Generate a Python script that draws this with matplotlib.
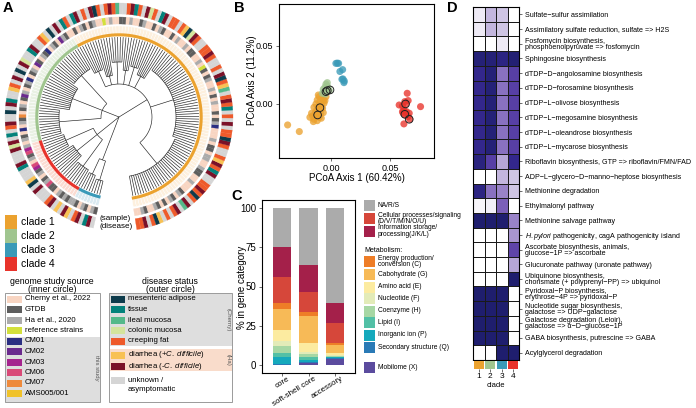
import numpy as np
import matplotlib.pyplot as plt
import matplotlib.transforms as mtransforms
from matplotlib.patches import Wedge, Rectangle
from matplotlib.colors import LinearSegmentedColormap

plt.rcParams['font.family'] = ['Liberation Sans', 'DejaVu Sans']
plt.rcParams['mathtext.fontset'] = 'custom'
plt.rcParams['mathtext.rm'] = 'Liberation Sans'
plt.rcParams['mathtext.it'] = 'Liberation Sans:italic'

W, H = 696, 408

# ---------------- data: panel A (tree tips, source+disease code per tip) ----------------
clade_names = ['clade 1', 'clade 2', 'clade 3', 'clade 4']
clade_colors = ['#EBA22F', '#A0C58F', '#3A9AB8', '#E8332B']
clade_pale = ['#FDF0DE', '#E9F1E3', '#DAEAF1', '#FBDCD2']

tips_clade1 = ("Cf Cf Hm Gu Cf Ca Hp Gu Cf Gu "
               "Cf Hm Gu Ci Hm Gu Cf Ca Cf Hm "
               "Cf Cf Gu Gu Hm Ct Cf Hm Hp Cf "
               "Gu Gu Cf Hm Ca Cf Cf 1u Hm Gu "
               "Cf Gu Ct Cf Hm Cf Gu Ci Hp Cf "
               "Ca Hm Gu Cf Gu Ru Cf Hm Cf Cf "
               "Gu Gu Cf Hm Cc Ca Hp Cf Gu Cf "
               "Cf Gu Hm Ct Gu Cf Cc Hm Gu Cf "
               "Ct Hm Cf Gu Gu Ci Cf Hm Cf Ru "
               "Cf Ca Hm Gu Cf Gu Hm Ct Gu Cf").split()
tips_clade2 = ("Ct Gu Hm 2u Ca Gu Hp Cf 1u Gu "
               "Hm Ct Gu 2u Cc Hm Gu Ca 1u Hm "
               "Gu Cf Hp 2u Gu Ct Hm Gu Ca 7u "
               "Gu Hm Cf 1u Ct Gu Hm Cc").split()
tips_clade4 = ("Hm 3u 6u Gu Hm Ct 6u 3u Gu Hp "
               "Ca Gu Hm 6u Gu Gu Cf Hm Gu Hp "
               "Gu Hm").split()
tips_clade3 = "Hp Gu Cf Hm Gu Ct Hm Gu".split()

# subgroups of the tree: tips per subgroup and node radius
groups_clade1 = [(30, 60), (38, 57), (6, 46), (5, 52), (4, 47), (6, 55), (5, 42), (6, 50)]
groups_clade2 = [(12, 56), (14, 50), (12, 60)]
groups_clade4 = [(7, 58), (8, 54), (7, 61)]
groups_clade3 = [(4, 63), (4, 66)]

source_labels = ['Cherny et al., 2022', 'GTDB', 'Ha et al., 2020', 'reference strains',
                 'CM01', 'CM02', 'CM03', 'CM06', 'CM07', 'AMS005/001']
source_codes = ['C', 'G', 'H', 'R', '1', '2', '3', '6', '7', 'A']
source_colors = ['#F8D5C2', '#5E5E5E', '#ABABAB', '#D3E03C',
                 '#2A2E82', '#6A2A8E', '#A5248E', '#D94A78', '#EE8A3C', '#F0C22A']

disease_labels = ['mesenteric adipose', 'tissue', 'ileal mucosa', 'colonic mucosa', 'creeping fat',
                  r'diarrhea (+$\mathit{C.\ difficile}$)', r'diarrhea (-$\mathit{C.\ difficile}$)',
                  'unknown /\nasymptomatic']
disease_codes = ['a', 't', 'i', 'c', 'f', 'p', 'm', 'u']
disease_colors = ['#0D3B4B', '#03827B', '#54B98A', '#D4E49C', '#EE5A2B', '#F8C154', '#7B1128', '#D5D5D5']

# ---------------- data: panel B (PCoA) ----------------
pc_clade1_x = [-0.0099, -0.0079, -0.0116, -0.0093, -0.0065, -0.0127, -0.0104, -0.0082, -0.0059, -0.0144,
               -0.0121, -0.0093, -0.0071, -0.0133, -0.0110, -0.0087, -0.0155, -0.0127, -0.0099, -0.0144,
               -0.0116, -0.0082, -0.0149, -0.0051, -0.0042, -0.0071, -0.0107, -0.0164, -0.0065, -0.0178,
               -0.0367, -0.0268]
pc_clade1_y = [0.0063, 0.0057, 0.0034, 0.0020, 0.0034, 0.0000, -0.0017, -0.0009, 0.0006, -0.0029,
               -0.0052, -0.0046, -0.0037, -0.0075, -0.0086, -0.0080, -0.0103, -0.0109, -0.0115, -0.0132,
               -0.0144, -0.0123, -0.0152, 0.0029, 0.0063, 0.0077, 0.0077, -0.0080, -0.0075, -0.0115,
               -0.0181, -0.0238]
pc_clade2_x = [-0.0042, -0.0031, -0.0051, -0.0065, -0.0023, -0.0059, -0.0037, -0.0073, -0.0048, -0.0014, -0.0031]
pc_clade2_y = [0.0172, 0.0155, 0.0144, 0.0126, 0.0135, 0.0106, 0.0115, 0.0092, 0.0086, 0.0115, 0.0184]
pc_clade3_x = [0.0042, 0.0065, 0.0054, 0.0076, 0.0099, 0.0102, 0.0113, 0.0110, 0.0093]
pc_clade3_y = [0.0350, 0.0350, 0.0352, 0.0280, 0.0296, 0.0216, 0.0198, 0.0184, 0.0213]
pc_clade4_x = [0.0646, 0.0578, 0.0606, 0.0626, 0.0654, 0.0635, 0.0618, 0.0640, 0.0612, 0.0629,
               0.0654, 0.0668, 0.0618, 0.0759, 0.0606, 0.0663]
pc_clade4_y = [0.0092, -0.0009, -0.0017, 0.0020, 0.0029, 0.0000, -0.0052, -0.0066, -0.0080, -0.0095,
               -0.0109, -0.0132, -0.0172, -0.0023, -0.0066, -0.0080]
isolate_x = [-0.0042, -0.0008, -0.0031, -0.0093, -0.0113, 0.0632, 0.0626, 0.0663]
isolate_y = [0.0106, 0.0121, 0.0115, -0.0032, -0.0095, 0.0000, -0.0089, -0.0132]

# ---------------- data: panel C (gene categories, %) ----------------
genome_parts = ['core', 'soft-shell core', 'accessory']
cat_labels = ['Mobilome (X)', 'Secondary structure (Q)', 'Inorganic ion (P)', 'Lipid (I)', 'Coenzyme (H)',
              'Nucleotide (F)', 'Amino acid (E)', 'Cabohydrate (G)', 'Energy production/\nconversion (C)',
              'Cellular processes/signaling\n(D/V/T/M/N/O/U)', 'Information storage/\nprocessing(J/K/L)', 'NA/R/S']
cat_colors = ['#5B4B9E', '#2A7AB6', '#15A9BC', '#52C0A6', '#A7D7A4', '#E3EBB8',
              '#FCEBA0', '#F7BA57', '#EE7D27', '#D6473A', '#A4204A', '#ABABAB']
pct_core = [0.3, 0.5, 4.5, 2.5, 4.4, 3.2, 7.2, 12.8, 4.0, 16.8, 18.8, 25.0]
pct_soft = [1.5, 0.6, 1.3, 1.5, 2.1, 1.4, 5.5, 17.3, 2.5, 12.9, 16.9, 36.5]
pct_acc = [4.2, 0.3, 0.5, 0.2, 0.3, 0.8, 1.3, 5.3, 1.0, 12.7, 12.6, 60.8]

# ---------------- data: panel D (pathway heatmap) ----------------
pathways = ['Sulfate\u2212sulfur assimilation',
            'Assimilatory sulfate reduction, sulfate => H2S',
            'Fosfomycin biosynthesis,\nphosphoenolpyruvate => fosfomycin',
            'Sphingosine biosynthesis',
            'dTDP\u2212D\u2212angolosamine biosynthesis',
            'dTDP\u2212D\u2212forosamine biosynthesis',
            'dTDP\u2212L\u2212olivose biosynthesis',
            'dTDP\u2212L\u2212megosamine biosynthesis',
            'dTDP\u2212L\u2212oleandrose biosynthesis',
            'dTDP\u2212L\u2212mycarose biosynthesis',
            'Riboflavin biosynthesis, GTP => riboflavin/FMN/FAD',
            'ADP\u2212L\u2212glycero\u2212D\u2212manno\u2212heptose biosynthesis',
            'Methionine degradation',
            'Ethylmalonyl pathway',
            'Methionine salvage pathway',
            r'$\mathit{H.pylori}$ pathogenicity, cagA pathogenicity island',
            'Ascorbate biosynthesis, animals,\nglucose\u22121P => ascorbate',
            'Glucuronate pathway (uronate pathway)',
            'Ubiquinone biosynthesis,\nchorismate (+ polyprenyl\u2212PP) => ubiquinol',
            'Pyridoxal\u2212P biosynthesis,\nerythrose\u22124P => pyridoxal\u2212P',
            'Nucleotide sugar biosynthesis,\ngalactose => UDP\u2212galactose',
            'Galactose degradation (Leloir),\ngalactose => \u03b1\u2212D\u2212glucose\u22121P',
            'GABA biosynthesis, putrescine => GABA',
            'Acylglycerol degradation']
completeness = [[0.10, 0.30, 0.25, 0.00],
                [0.10, 0.30, 0.25, 0.00],
                [0.00, 0.00, 0.10, 0.00],
                [0.95, 0.95, 0.90, 0.97],
                [0.85, 0.95, 0.50, 0.68],
                [0.85, 0.95, 0.50, 0.68],
                [0.85, 0.95, 0.50, 0.68],
                [0.85, 0.95, 0.50, 0.68],
                [0.85, 0.95, 0.50, 0.68],
                [0.85, 0.95, 0.50, 0.68],
                [0.92, 0.68, 0.35, 0.85],
                [0.00, 0.00, 0.30, 0.25],
                [0.90, 0.50, 0.45, 0.25],
                [0.05, 0.08, 0.55, 0.00],
                [1.00, 1.00, 1.00, 0.45],
                [0.00, 0.00, 0.00, 0.40],
                [0.00, 0.00, 0.00, 0.65],
                [0.00, 0.00, 0.00, 0.35],
                [0.00, 0.00, 0.00, 1.00],
                [1.00, 1.00, 1.00, 0.00],
                [1.00, 1.00, 1.00, 0.00],
                [1.00, 1.00, 1.00, 0.00],
                [1.00, 1.00, 1.00, 0.00],
                [0.00, 0.00, 1.00, 1.00]]

fig = plt.figure(figsize=(W / 100, H / 100), dpi=100)

# overlay axes in pixel coordinates for legends and free text
ov = fig.add_axes([0, 0, 1, 1])
ov.set_xlim(0, W)
ov.set_ylim(H, 0)
ov.axis('off')

for lab, x, y in [('A', 3, 8), ('B', 234, 8), ('C', 231, 196), ('D', 447, 8)]:
    ov.text(x, y, lab, fontsize=10.5, fontweight='bold', va='center', ha='left')

# ---------------- panel A: circular tree ----------------
cx, cy, R = 119, 117, 118
tr = fig.add_axes([(cx - R) / W, (H - cy - R) / H, 2 * R / W, 2 * R / H])
tr.set_xlim(-R, R)
tr.set_ylim(-R, R)
tr.axis('off')

src_col = dict(zip(source_codes, source_colors))
dis_col = dict(zip(disease_codes, disease_colors))
line_kw = dict(color='#1e1e1e', lw=0.45, solid_capstyle='butt')


def radial(r1, r2, a):
    t = np.deg2rad(a)
    tr.plot([r1 * np.cos(t), r2 * np.cos(t)], [r1 * np.sin(t), r2 * np.sin(t)], **line_kw)


def arc(r, a1, a2, **kw):
    t = np.deg2rad(np.linspace(a1, a2, max(2, int(abs(a2 - a1)) + 2)))
    tr.plot(r * np.cos(t), r * np.sin(t), **kw)


circle_order = [(0, tips_clade1, groups_clade1, 33),
                (1, tips_clade2, groups_clade2, 18),
                (3, tips_clade4, groups_clade4, 28),
                (2, tips_clade3, groups_clade3, 46)]
n_total = sum(len(c[1]) for c in circle_order)
a0, span = -81.0, 338.0
step = span / n_total
r_leaf = 80
i = 0
for ci, tips, groups, r_clade in circle_order:
    sizes = [g[0] for g in groups]
    sizes[-1] += len(tips) - sum(sizes)
    start = i
    mids = []
    for n, (_, r_node) in zip(sizes, groups):
        angs = a0 + (np.arange(i, i + n) + 0.5) * step
        for a in angs:
            radial(r_node, r_leaf, a)
        arc(r_node, angs[0], angs[-1], **line_kw)
        mids.append(angs.mean())
        radial(r_clade, r_node, angs.mean())
        i += n
    arc(r_clade, min(mids), max(mids), **line_kw)
    radial(0, r_clade, (min(mids) + max(mids)) / 2)
    # rings
    for k, tok in enumerate(tips):
        th1 = a0 + (start + k) * step
        th2 = th1 + step
        tr.add_patch(Wedge((0, 0), 91, th1, th2, width=9, facecolor=clade_pale[ci],
                           edgecolor='white', lw=0.3))
        c1 = src_col[tok[0]]
        tr.add_patch(Wedge((0, 0), 100, th1, th2, width=7, facecolor=c1, edgecolor=c1, lw=0.2))
        c2 = dis_col[tok[1]]
        tr.add_patch(Wedge((0, 0), 114, th1, th2, width=11, facecolor=c2, edgecolor=c2, lw=0.2))
    arc(82.2, a0 + start * step, a0 + i * step, color=clade_colors[ci], lw=2.2, solid_capstyle='butt')

ov.text(115, 218, '(sample)', fontsize=5.8, ha='center', va='center')
ov.text(116, 227, '(disease)', fontsize=5.8, ha='center', va='center')

# clade legend
for k in range(4):
    y = 215 + k * 14
    ov.add_patch(Rectangle((5, y), 12, 14, facecolor=clade_colors[k], edgecolor='none'))
    ov.text(21, y + 7, clade_names[k], fontsize=7.5, va='center')

# source legend
ov.text(52, 281, 'genome study source', fontsize=6.3, ha='center', va='center')
ov.text(52, 289, '(inner circle)', fontsize=6.3, ha='center', va='center')
ov.add_patch(Rectangle((5, 293), 95, 109, facecolor='white', edgecolor='#8a8a8a', lw=0.6))
ov.add_patch(Rectangle((5.5, 336.5), 94, 65, facecolor='#DEDEDE', edgecolor='none'))
for k, (lab, col) in enumerate(zip(source_labels, source_colors)):
    y = 299 + k * 10.5
    ov.add_patch(Rectangle((7, y - 3.5), 15, 7, facecolor=col, edgecolor='none'))
    ov.text(25, y, lab, fontsize=5.6, va='center')
ov.text(96, 368, 'this study', fontsize=4.3, rotation=-90, ha='center', va='center', color='#555555')

# disease legend
ov.text(170, 281, 'disease status', fontsize=6.3, ha='center', va='center')
ov.text(170, 289, '(outer circle)', fontsize=6.3, ha='center', va='center')
ov.add_patch(Rectangle((109, 293), 123, 109, facecolor='white', edgecolor='#8a8a8a', lw=0.6))
ov.add_patch(Rectangle((109.5, 293.5), 122, 52, facecolor='#DEDEDE', edgecolor='none'))
ov.add_patch(Rectangle((109.5, 349), 122, 22, facecolor='#F9DCCB', edgecolor='none'))
dis_y = [299, 309.5, 320, 330.5, 341, 355, 366, 380]
for lab, col, y in zip(disease_labels, disease_colors, dis_y):
    ov.add_patch(Rectangle((111, y - 3.5), 14, 7, facecolor=col, edgecolor='none'))
    ov.text(128, y + (5 if '\n' in lab else 0), lab, fontsize=5.6, va='center', linespacing=1.25)
ov.text(228, 320, '(Cherny)', fontsize=4.3, rotation=-90, ha='center', va='center', color='#555555')
ov.text(228, 360, '(Ha)', fontsize=4.3, rotation=-90, ha='center', va='center', color='#555555')

# ---------------- panel B: PCoA ----------------
b = fig.add_axes([279 / W, (H - 158) / H, 155 / W, 154 / H])
for xs, ys, col in [(pc_clade1_x, pc_clade1_y, clade_colors[0]),
                    (pc_clade2_x, pc_clade2_y, clade_colors[1]),
                    (pc_clade3_x, pc_clade3_y, clade_colors[2]),
                    (pc_clade4_x, pc_clade4_y, clade_colors[3])]:
    b.scatter(xs, ys, s=26, color=col, alpha=0.78, edgecolors='none')
b.scatter(isolate_x, isolate_y, s=30, facecolors='none', edgecolors='#222222', linewidths=0.7)
b.set_xlim(-0.044, 0.0873)
b.set_ylim(-0.0466, 0.0862)
b.set_xticks([0.0, 0.05])
b.set_xticklabels(['0.00', '0.05'])
b.set_yticks([0.0, 0.05])
b.set_yticklabels(['0.00', '0.05'])
b.tick_params(labelsize=6.5, length=2.5, width=0.5, pad=1.5, color='#333333')
for s in b.spines.values():
    s.set_linewidth(0.8)
ov.text(357, 178, 'PCoA Axis 1 (60.42%)', fontsize=7, ha='center', va='center')
ov.text(252, 80, 'PCoA Axis 2 (11.2%)', fontsize=7, ha='center', va='center', rotation=90)
ov.scatter([376], [11], s=30, facecolors='none', edgecolors='#222222', linewidths=0.7)
ov.text(384, 14.5, 'isolate from\nthis study', fontsize=6.3, va='center', linespacing=1.0)

# ---------------- panel C: stacked bars ----------------
c = fig.add_axes([262 / W, (H - 373) / H, 93 / W, 173 / H])
xpos = np.arange(1, 4)
bottom = np.zeros(3)
for k in range(len(cat_labels)):
    vals = np.array([pct_core[k], pct_soft[k], pct_acc[k]])
    c.bar(xpos, vals, bottom=bottom, width=0.7, color=cat_colors[k], edgecolor='none')
    bottom += vals
c.set_xlim(0.25, 3.75)
c.set_ylim(-5, 105)
c.set_yticks([0, 25, 50, 75, 100])
c.set_xticks(xpos)
c.set_xticklabels([])
shift = mtransforms.ScaledTranslation(5 / 100, -2 / 100, fig.dpi_scale_trans)
for xp, part in zip(xpos, genome_parts):
    c.text(xp, 0, part, fontsize=5.8, rotation=32, ha='right', va='top', rotation_mode='anchor',
           transform=c.get_xaxis_transform() + shift)
c.tick_params(axis='y', labelsize=7, length=2.5, width=0.5, pad=1.5, color='#333333')
c.tick_params(axis='x', length=2.5, width=0.5, color='#333333')
for s in c.spines.values():
    s.set_linewidth(0.8)
ov.text(242, 287, '% in gene category', fontsize=7, rotation=90, ha='center', va='center')

leg_y = {11: 205.5, 9: 218.5, 10: 231, 8: 261.5, 7: 274.5, 6: 287, 5: 298.5, 4: 311,
         3: 322.5, 2: 335, 1: 347.5, 0: 367.5}
for k, y in leg_y.items():
    ov.add_patch(Rectangle((364, y - 5.5), 11, 11, facecolor=cat_colors[k], edgecolor='none'))
    ov.text(378, y, cat_labels[k], fontsize=4.8, va='center', linespacing=0.9)
ov.text(364, 250, 'Metabolism:', fontsize=5, va='center')

# ---------------- panel D: heatmap ----------------
cmap = LinearSegmentedColormap.from_list(
    'pw', ['#FFFFFF', '#DCD5EB', '#A996D0', '#6B4DB0', '#3A2A96', '#1F1E6E'])
d = fig.add_axes([473 / W, (H - 360) / H, 46 / W, 353 / H])
d.pcolormesh(np.array(completeness), cmap=cmap, vmin=0, vmax=1,
             edgecolors='#1a1a1a', linewidth=0.7)
d.set_ylim(len(pathways), 0)
d.set_xlim(0, 4)
d.set_xticks([])
d.yaxis.tick_right()
d.set_yticks(np.arange(len(pathways)) + 0.5)
d.set_yticklabels(pathways, fontsize=5.1, linespacing=0.8)
d.tick_params(axis='y', length=2, width=0.5, pad=2, color='#333333')
for s in d.spines.values():
    s.set_linewidth(0.8)

st = fig.add_axes([473 / W, (H - 369) / H, 46 / W, 8 / H])
st.bar(np.arange(4), [1] * 4, width=0.86, color=clade_colors)
st.set_xlim(-0.5, 3.5)
st.set_ylim(0, 1)
st.set_yticks([])
st.set_xticks(np.arange(4))
st.set_xticklabels(['1', '2', '3', '4'])
st.tick_params(axis='x', labelsize=6, length=2, width=0.5, pad=1, color='#333333')
for s in st.spines.values():
    s.set_visible(False)
st.set_xlabel('clade', fontsize=5.5, labelpad=1)

fig.savefig('out.png', dpi=100)
